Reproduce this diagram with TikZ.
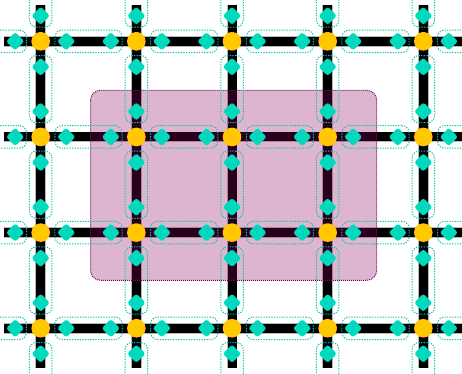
\documentclass[tikz,border=0pt]{standalone}
\usetikzlibrary{shapes.geometric,fit}
\definecolor{gold}{RGB}{255,200,0}
\definecolor{teal1}{RGB}{0,217,187}
\definecolor{dashc}{RGB}{0,200,180}
\definecolor{plum}{RGB}{138,0,93}
\definecolor{plumedge}{RGB}{110,10,85}
\definecolor{halo}{RGB}{185,185,185}
\tikzset{
  yel/.style={circle,fill=gold,minimum size=18.6pt,inner sep=0pt},
  dia/.style={diamond,fill=teal1,minimum width=18.5pt,minimum height=18.5pt,inner sep=0pt,rounded corners=2.5pt},
  grp/.style={rectangle,draw=dashc,line width=1pt,dash pattern=on 1.3pt off 1.3pt,rounded corners=7pt,inner sep=1.8pt},
  halol/.style={draw=halo,line width=10.6pt},
  bar/.style={draw=black,line width=9pt},
  region/.style={fill=plum,fill opacity=0.29,draw=plumedge,line width=1pt,dash pattern=on 1pt off 1pt,rounded corners=10pt}
}
\begin{document}
\begin{tikzpicture}[x=1pt,y=-1pt]
\useasboundingbox (0,0) rectangle (462,373);
\clip (0,0) rectangle (462,373);
% line end points
\foreach \j in {0,...,3}{
  \pgfmathsetmacro\yy{41.3+95.65*\j}
  \coordinate (hl\j) at (4,\yy);
  \coordinate (hr\j) at (466,\yy);
  \coordinate (ho\j) at (-20,\yy);
  \coordinate (hp\j) at (482,\yy);
}
\foreach \i in {0,...,4}{
  \pgfmathsetmacro\xx{40.7+95.65*\i}
  \coordinate (vt\i) at (\xx,4.5);
  \coordinate (vb\i) at (\xx,368);
  \coordinate (vo\i) at (\xx,-20);
  \coordinate (vp\i) at (\xx,393);
}
% halos
\foreach \j in {0,...,3}{ \draw[halol] (hl\j) -- (hr\j); }
\foreach \i in {0,...,4}{ \draw[halol] (vt\i) -- (vb\i); }
% bars
\foreach \j in {0,...,3}{ \draw[bar] (hl\j) -- (hr\j); }
\foreach \i in {0,...,4}{ \draw[bar] (vt\i) -- (vb\i); }
% translucent region
\draw[region] (90.5,90.3) rectangle (376.7,280.3);
% nodes
\foreach \i in {0,...,4}{
  \foreach \j in {0,...,3}{
    \pgfmathsetmacro\xx{40.7+95.65*\i}
    \pgfmathsetmacro\yy{41.3+95.65*\j}
    \node[dia] (dL-\i-\j) at (\xx-25.5,\yy) {};
    \node[dia] (dR-\i-\j) at (\xx+25.5,\yy) {};
    \node[dia] (dU-\i-\j) at (\xx,\yy-25.5) {};
    \node[dia] (dD-\i-\j) at (\xx,\yy+25.5) {};
    \node[yel] (n-\i-\j) at (\xx,\yy) {};
  }
}
% dashed groups, horizontal
\foreach \j in {0,...,3}{
  \foreach \i/\k in {0/1,1/2,2/3,3/4}{
    \node[grp,fit=(dR-\i-\j)(dL-\k-\j)] (gh-\i-\j) {};
  }
  \node[grp,fit=(ho\j)(dL-0-\j)] (ghl-\j) {};
  \node[grp,fit=(dR-4-\j)(hp\j)] (ghr-\j) {};
}
% dashed groups, vertical
\foreach \i in {0,...,4}{
  \foreach \j/\k in {0/1,1/2,2/3}{
    \node[grp,fit=(dD-\i-\j)(dU-\i-\k)] (gv-\i-\j) {};
  }
  \node[grp,fit=(vo\i)(dU-\i-0)] (gvt-\i) {};
  \node[grp,fit=(dD-\i-3)(vp\i)] (gvb-\i) {};
}
\end{tikzpicture}
\end{document}
